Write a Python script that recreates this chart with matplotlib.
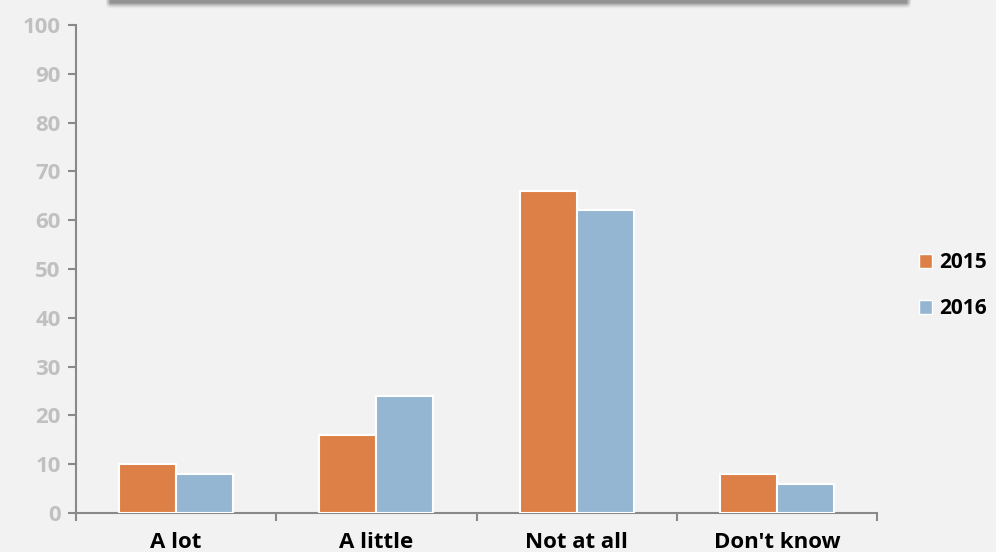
import matplotlib
matplotlib.use("Agg")
import matplotlib.pyplot as plt
import numpy as np
from matplotlib.patches import Patch

categories = ["A lot", "A little", "Not at all", "Don't know"]
series_names = ["2015", "2016"]
values_2015 = [10, 16, 66, 8]
values_2016 = [8, 24, 62, 6]
y_ticks = [0, 10, 20, 30, 40, 50, 60, 70, 80, 90, 100]

bg = "#f2f2f2"
c2015 = "#dd8047"
c2016 = "#94b6d2"
axis_col = "#898989"
font = ["Open Sans", "DejaVu Sans"]

fig = plt.figure(figsize=(9.96, 5.52), dpi=100, facecolor=bg)
W, H = 996, 552
ax = fig.add_axes([76 / W, (H - 513) / H, (877 - 76) / W, (513 - 25) / H])
ax.set_facecolor(bg)

x = np.arange(len(categories)) + 0.5
bw = 0.285
ax.bar(x - bw / 2, values_2015, bw, color=c2015, edgecolor="white", linewidth=1.5, zorder=3)
ax.bar(x + bw / 2, values_2016, bw, color=c2016, edgecolor="white", linewidth=1.5, zorder=3)

ax.set_xlim(0, len(categories))
ax.set_ylim(0, 100)
ax.set_yticks(y_ticks)
ax.set_yticklabels([str(t) for t in y_ticks], fontfamily=font, fontweight="bold",
                   fontsize=16, color="#c0c0c0")
ax.set_xticks(np.arange(len(categories) + 1))
ax.set_xticklabels([])
ax.set_xticks(x, minor=True)
ax.set_xticklabels(categories, minor=True, fontfamily=font, fontweight="bold",
                   fontsize=16, color="black")
ax.tick_params(axis="x", which="minor", length=0, pad=14)
ax.tick_params(axis="x", which="major", length=6, color=axis_col, width=1.5, direction="out")
ax.tick_params(axis="y", length=6, color=axis_col, width=1.5, direction="out", pad=5)

for s in ["top", "right"]:
    ax.spines[s].set_visible(False)
for s in ["left", "bottom"]:
    ax.spines[s].set_color(axis_col)
    ax.spines[s].set_linewidth(1.5)

# Soft-edged banner strip along the top edge
bx0, bx1, by1 = 100, 916, 12
gx = np.arange(bx0, bx1) + 0.5
gy = np.arange(0, by1) + 0.5
ax_edge = np.clip(np.minimum(gx - 108, 908 - gx) / 5.0 + 0.5, 0, 1)
ay_edge = np.clip(1 - (gy - 3.0) / 6.0, 0, 1) ** 1.5
alpha = 0.5 * np.outer(ay_edge, ax_edge)
rgba = np.zeros((len(gy), len(gx), 4))
rgba[..., :3] = 0.2
rgba[..., 3] = alpha
bax = fig.add_axes([bx0 / W, (H - by1) / H, (bx1 - bx0) / W, by1 / H])
bax.imshow(rgba, aspect="auto", interpolation="bilinear")
bax.axis("off")

handles = [Patch(facecolor=c2015, edgecolor="white", linewidth=1),
           Patch(facecolor=c2016, edgecolor="white", linewidth=1)]
leg = fig.legend(handles, series_names, loc="center left", bbox_to_anchor=(900 / W, (H - 286) / H),
                 frameon=False, handlelength=0.65, handleheight=0.65, handletextpad=0.35,
                 labelspacing=1.2, prop={"family": font, "weight": "bold", "size": 15})

fig.savefig("out.png", dpi=100, facecolor=bg)
